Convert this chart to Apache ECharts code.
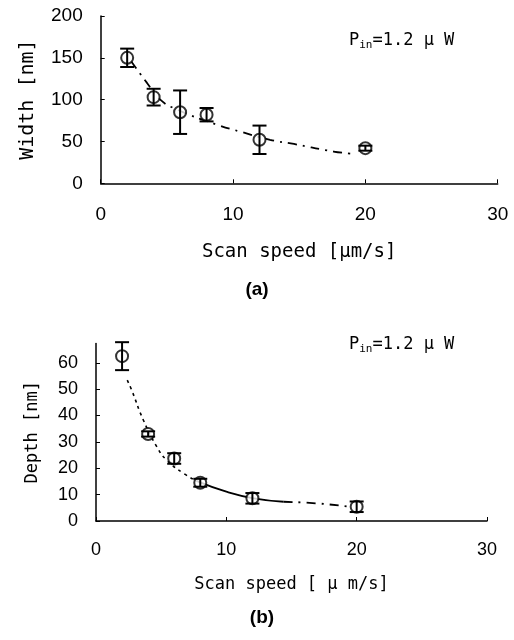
<!DOCTYPE html>
<html>
<head>
<meta charset="utf-8">
<script src="https://cdn.jsdelivr.net/npm/echarts@6/dist/echarts.min.js"></script>
<style>html,body{margin:0;padding:0;background:#fff}#c{width:514px;height:640px}</style>
</head>
<body>
<div id="c"></div>
<script>
// ---- data ----
const speeds = [2, 4, 6, 8, 12, 20];
const widthMean = [150, 103, 85, 82, 52, 42];
const widthErr = [11, 10, 26, 8, 17, 3];
const depthMean = [62.5, 33, 23.7, 14.5, 8.6, 5.4];
const depthErr = [5.3, 1, 2, 1.5, 2, 2];
// trend curves
const widthTrendX = [2.3, 3.5, 4.5, 5.8, 8.8, 10.5, 12.8, 14.6, 17.6, 19.2];
const widthTrendY = [146, 120, 100, 88, 70, 62, 52, 47, 38, 35];
const depthDotX = [2.4, 2.74, 3.63, 4.66, 5.42, 6.7, 7.8];
const depthDotY = [53.4, 49.6, 38.3, 28.2, 23.1, 18.1, 15];
const depthSolidX = [7.8, 10, 12.1, 14.4];
const depthSolidY = [15, 11.1, 8.6, 7.3];
const depthDashX = [14.4, 16.9, 19.5];
const depthDashY = [7.3, 6.7, 5.4];
const xTicks = [0, 10, 20, 30];
const widthTicks = [0, 50, 100, 150, 200];
const depthTicks = [0, 10, 20, 30, 40, 50, 60];

const pairs = (xs, ys) => xs.map((x, i) => [x, ys[i]]);
const errData = (ms, es) => speeds.map((x, i) => [x, ms[i] - es[i], ms[i] + es[i]]);

function errRender(params, api) {
  const x = api.value(0), lo = api.value(1), hi = api.value(2);
  const a = api.coord([x, hi]), b = api.coord([x, lo]);
  const w = 7;
  const st = {stroke: '#000', lineWidth: 2};
  return {type: 'group', children: [
    {type: 'line', shape: {x1: a[0], y1: a[1], x2: b[0], y2: b[1]}, style: st},
    {type: 'line', shape: {x1: a[0] - w, y1: a[1], x2: a[0] + w, y2: a[1]}, style: st},
    {type: 'line', shape: {x1: b[0] - w, y1: b[1], x2: b[0] + w, y2: b[1]}, style: st}
  ]};
}

const tickFont = {color: '#000', fontFamily: 'Liberation Sans, Arial, sans-serif'};
const axisLine = {lineStyle: {color: '#000', width: 1.5}};

const chart = echarts.init(document.getElementById('c'), null, {renderer: 'canvas'});
chart.setOption({
  animation: false,
  backgroundColor: '#fff',
  grid: [
    {left: 100.7, right: 16.3, top: 16, height: 167.3},
    {left: 96, right: 27, top: 343.5, height: 177.5}
  ],
  xAxis: [
    {gridIndex: 0, type: 'value', min: 0, max: 30, interval: 10,
     axisLine: axisLine, splitLine: {show: false},
     axisTick: {inside: true, length: 4, lineStyle: {color: '#000'}},
     axisLabel: Object.assign({fontSize: 19, margin: 22}, tickFont),
     name: 'Scan speed [μm/s]', nameLocation: 'middle', nameGap: 59,
     nameTextStyle: {fontFamily: 'DejaVu Sans Mono, monospace', fontSize: 19, color: '#000'}},
    {gridIndex: 1, type: 'value', min: 0, max: 30, interval: 10,
     axisLine: axisLine, splitLine: {show: false},
     axisTick: {inside: true, length: 4, lineStyle: {color: '#000'}},
     axisLabel: Object.assign({fontSize: 18, margin: 20}, tickFont),
     name: 'Scan speed [ μ m/s]', nameLocation: 'middle', nameGap: 55,
     nameTextStyle: {fontFamily: 'DejaVu Sans Mono, monospace', fontSize: 17, color: '#000'}}
  ],
  yAxis: [
    {gridIndex: 0, type: 'value', min: 0, max: 200, interval: 50,
     axisLine: Object.assign({show: true}, axisLine), splitLine: {show: false},
     axisTick: {show: true, inside: true, length: 4, lineStyle: {color: '#000'}},
     axisLabel: Object.assign({fontSize: 19, margin: 18}, tickFont),
     name: 'Width [nm]', nameLocation: 'middle', nameGap: 63, nameRotate: 90,
     nameTextStyle: {fontFamily: 'DejaVu Sans Mono, monospace', fontSize: 20, color: '#000'}},
    {gridIndex: 1, type: 'value', min: 0, max: 67.3, interval: 10,
     axisLine: Object.assign({show: true}, axisLine), splitLine: {show: false},
     axisTick: {show: true, inside: true, length: 4, lineStyle: {color: '#000'}},
     axisLabel: Object.assign({fontSize: 18, margin: 18, showMaxLabel: false}, tickFont),
     name: 'Depth [nm]', nameLocation: 'middle', nameGap: 55, nameRotate: 90,
     nameTextStyle: {fontFamily: 'DejaVu Sans Mono, monospace', fontSize: 17, color: '#000'}}
  ],
  series: [
    {type: 'line', xAxisIndex: 0, yAxisIndex: 0, data: pairs(widthTrendX, widthTrendY),
     showSymbol: false, smooth: true, lineStyle: {color: '#000', width: 1.8, type: [9, 6, 2, 6]}, z: 1},
    {type: 'scatter', xAxisIndex: 0, yAxisIndex: 0, data: pairs(speeds, widthMean),
     symbol: 'emptyCircle', symbolSize: 12, itemStyle: {color: '#000', borderWidth: 2}, z: 2},
    {type: 'custom', xAxisIndex: 0, yAxisIndex: 0, data: errData(widthMean, widthErr),
     renderItem: errRender, z: 3},
    {type: 'line', xAxisIndex: 1, yAxisIndex: 1, data: pairs(depthDotX, depthDotY),
     showSymbol: false, smooth: true, lineStyle: {color: '#000', width: 1.6, type: [3, 4]}, z: 1},
    {type: 'line', xAxisIndex: 1, yAxisIndex: 1, data: pairs(depthSolidX, depthSolidY),
     showSymbol: false, smooth: true, lineStyle: {color: '#000', width: 1.8}, z: 1},
    {type: 'line', xAxisIndex: 1, yAxisIndex: 1, data: pairs(depthDashX, depthDashY),
     showSymbol: false, smooth: true, lineStyle: {color: '#000', width: 1.8, type: [9, 6, 2, 6]}, z: 1},
    {type: 'scatter', xAxisIndex: 1, yAxisIndex: 1, data: pairs(speeds, depthMean),
     symbol: 'emptyCircle', symbolSize: 12, itemStyle: {color: '#000', borderWidth: 2}, z: 2},
    {type: 'custom', xAxisIndex: 1, yAxisIndex: 1, data: errData(depthMean, depthErr),
     renderItem: errRender, z: 3}
  ],
  graphic: [
    {type: 'text', left: 349, top: 32, style: {
      text: '{p|P}{s|in}{p|=1.2 μ W}',
      rich: {p: {fontFamily: 'DejaVu Sans Mono, monospace', fontSize: 17, fill: '#000'},
             s: {fontFamily: 'DejaVu Sans Mono, monospace', fontSize: 11, fill: '#000', padding: [10, 0, 0, 0]}}}},
    {type: 'text', left: 349, top: 336, style: {
      text: '{p|P}{s|in}{p|=1.2 μ W}',
      rich: {p: {fontFamily: 'DejaVu Sans Mono, monospace', fontSize: 17, fill: '#000'},
             s: {fontFamily: 'DejaVu Sans Mono, monospace', fontSize: 11, fill: '#000', padding: [10, 0, 0, 0]}}}},
    {type: 'text', x: 257, y: 290, style: {text: '(a)', fontSize: 19, fontWeight: 'bold',
      fontFamily: 'Liberation Sans, Arial, sans-serif', fill: '#000', align: 'center', verticalAlign: 'middle'}},
    {type: 'text', x: 262, y: 618, style: {text: '(b)', fontSize: 19, fontWeight: 'bold',
      fontFamily: 'Liberation Sans, Arial, sans-serif', fill: '#000', align: 'center', verticalAlign: 'middle'}}
  ]
});
</script>
</body>
</html>
